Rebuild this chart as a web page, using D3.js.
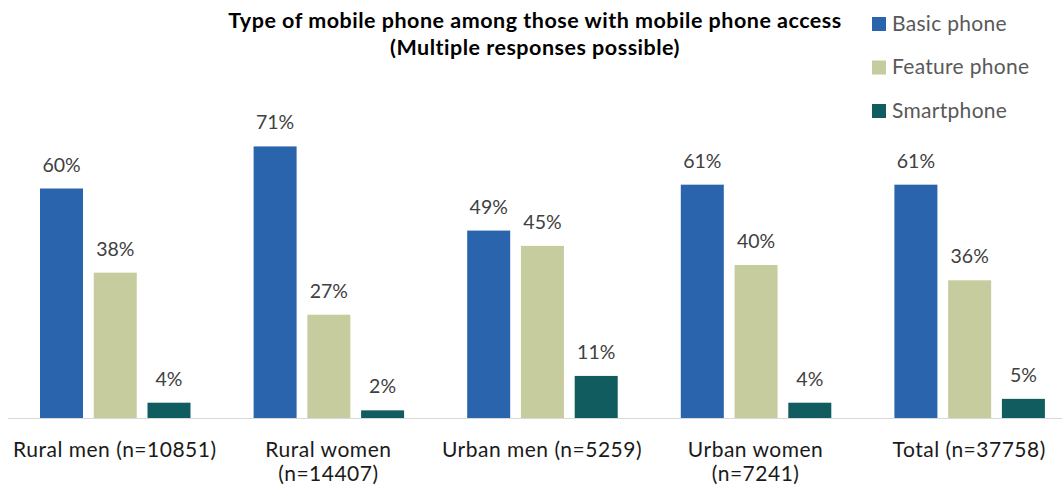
<!DOCTYPE html>
<html>
<head>
<meta charset="utf-8">
<script src="https://cdn.jsdelivr.net/npm/d3@7"></script>
<style>
  html, body { margin: 0; padding: 0; background: #fff; }
  svg { display: block; }
  text { font-family: Lato, "Open Sans", sans-serif; }
</style>
</head>
<body>
<svg id="chart" width="1062" height="490"></svg>
<script>
// Groups along the x axis (each label may wrap onto a second line)
const categories = [
  ["Rural men (n=10851)"],
  ["Rural women", "(n=14407)"],
  ["Urban men (n=5259)"],
  ["Urban women", "(n=7241)"],
  ["Total (n=37758)"]
];
const series = ["Basic phone", "Feature phone", "Smartphone"];
const basicPhone   = [60, 71, 49, 61, 61];
const featurePhone = [38, 27, 45, 40, 36];
const smartphone   = [4, 2, 11, 4, 5];
const seriesValues = [basicPhone, featurePhone, smartphone];
const colors = ["#2964ad", "#c6cc9e", "#115c5f"];
const titleLines = [
  "Type of mobile phone among those with mobile phone access",
  "(Multiple responses possible)"
];

const svg = d3.select("#chart");
const catKeys = categories.map(c => c.join(" "));

const x0 = d3.scaleBand().domain(catKeys).range([8, 1076]).padding(0);
const x1 = d3.scaleBand().domain(series).range([32, 182.5]).paddingInner(0.2).paddingOuter(0);
const y = d3.scaleLinear().domain([0, 80]).range([418, 112]);

// Baseline
svg.append("line")
  .attr("x1", 8).attr("x2", 1062)
  .attr("y1", y(0) + 0.5).attr("y2", y(0) + 0.5)
  .attr("stroke", "#d9d9d9").attr("stroke-width", 1);

// Bars and value labels
const groups = svg.selectAll("g.group")
  .data(catKeys)
  .join("g")
  .attr("class", "group")
  .attr("transform", d => `translate(${x0(d)},0)`);

groups.each(function(cat, ci) {
  const g = d3.select(this);
  const rows = series.map((s, si) => ({ s, si, v: seriesValues[si][ci] }));
  g.selectAll("rect")
    .data(rows)
    .join("rect")
    .attr("x", d => x1(d.s))
    .attr("width", x1.bandwidth())
    .attr("y", d => y(d.v))
    .attr("height", d => y(0) - y(d.v))
    .attr("fill", d => colors[d.si]);
  g.selectAll("text.val")
    .data(rows)
    .join("text")
    .attr("class", "val")
    .attr("x", d => x1(d.s) + x1.bandwidth() / 2)
    .attr("y", d => y(d.v) - 17)
    .attr("text-anchor", "middle")
    .attr("font-size", 19.5)
    .attr("fill", "#404040")
    .text(d => d.v + "%");
});

// Category labels
const catLabels = svg.selectAll("text.cat")
  .data(categories)
  .join("text")
  .attr("class", "cat")
  .attr("text-anchor", "middle")
  .attr("font-size", 21)
  .attr("letter-spacing", 0.5)
  .attr("fill", "#1a1a1a")
  .attr("transform", (d, i) => `translate(${x0(catKeys[i]) + x0.bandwidth() / 2},457)`);
catLabels.selectAll("tspan")
  .data(d => d)
  .join("tspan")
  .attr("x", 0)
  .attr("dy", (d, i) => i === 0 ? 0 : 24)
  .text(d => d);

// Title
svg.append("text")
  .attr("text-anchor", "middle")
  .attr("font-size", 21.5)
  .attr("font-weight", "bold")
  .attr("letter-spacing", 0.5)
  .attr("fill", "#000")
  .selectAll("tspan")
  .data(titleLines)
  .join("tspan")
  .attr("x", 535)
  .attr("y", (d, i) => 28 + i * 27)
  .text(d => d);

// Legend
const legend = svg.selectAll("g.legend")
  .data(series)
  .join("g")
  .attr("class", "legend")
  .attr("transform", (d, i) => `translate(872,${17 + i * 43.5})`);
legend.append("rect")
  .attr("width", 14).attr("height", 14)
  .attr("fill", (d, i) => colors[i]);
legend.append("text")
  .attr("x", 20).attr("y", 13.5)
  .attr("font-size", 21)
  .attr("letter-spacing", 0.3)
  .attr("fill", "#595959")
  .text(d => d);
</script>
</body>
</html>
